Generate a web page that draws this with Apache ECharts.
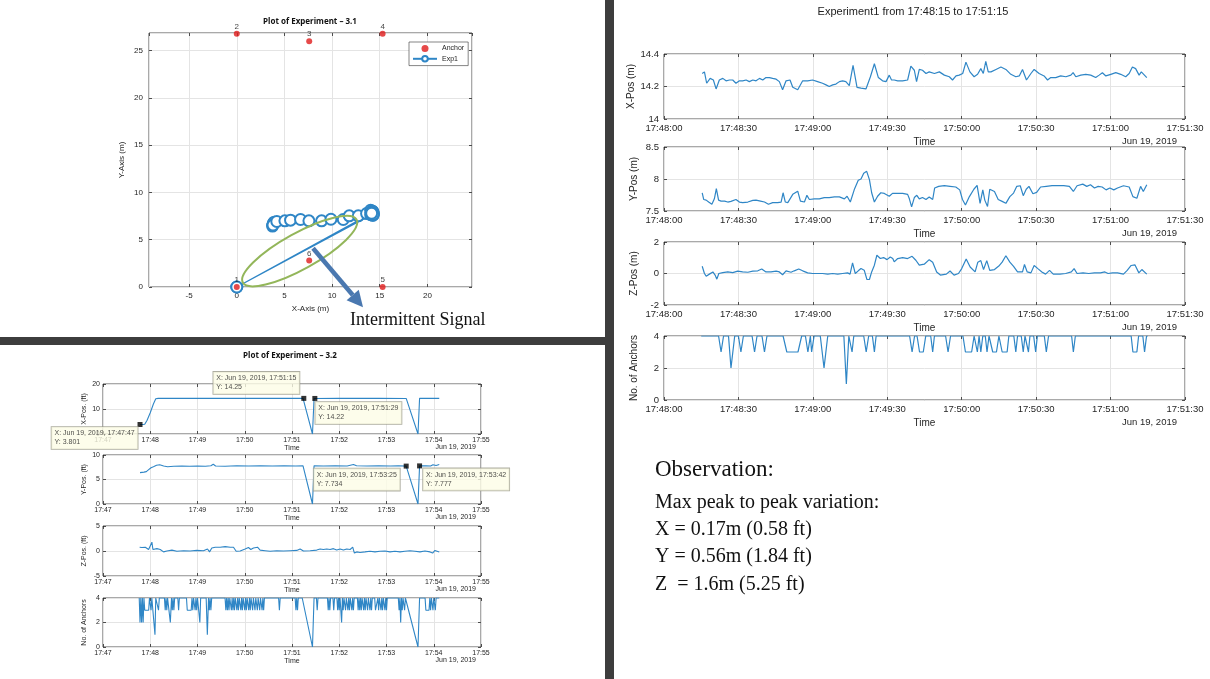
<!DOCTYPE html>
<html><head><meta charset="utf-8">
<script src="https://cdn.jsdelivr.net/npm/echarts@6/dist/echarts.min.js"></script>
<style>html,body{margin:0;padding:0;background:#fff}#c{width:1210px;height:679px}</style>
</head><body><div id="c"></div>
<script>
// ================= DATA =================
// Plot of Experiment - 3.1 (positions in m)
const anchorNames = ['1', '2', '3', '4', '5', '6'];
const anchorX = [0, 0, 7.6, 15.3, 15.3, 7.6];
const anchorY = [0, 26.8, 26.0, 26.8, 0, 2.8];
const exp1X = [3.75, 3.82, 3.92, 3.8, 4.2, 5.05, 5.64, 6.69, 7.57, 8.9, 9.88, 11.17, 11.8, 12.75, 13.62, 14.04, 14.15, 14.25, 14.1, 14.3, 14.2, 14.05, 14.35, 14.15, 0, 14.2, 14.1, 14.3, 14.25, 0, 14.2, 14.3, 14.15];
const exp1Y = [6.44, 6.72, 6.86, 6.55, 6.93, 7.0, 7.07, 7.14, 7.0, 7.0, 7.17, 7.14, 7.53, 7.53, 7.77, 8.12, 7.7, 7.95, 7.85, 7.6, 8.05, 7.65, 7.75, 7.9, 0, 7.8, 7.7, 7.95, 7.6, 0, 7.85, 7.7, 7.8];

// Plot of Experiment - 3.2 (time: seconds after 17:47:00, values in ft)
const leftTimeLabels = ['17:47', '17:48', '17:49', '17:50', '17:51', '17:52', '17:53', '17:54', '17:55'];
const leftXPos = [[47,3.801],[50,3.8],[53,3.9],[56,5.5],[60,8.5],[64,12],[67,14.1],[70,14.25],[100,14.27],[150,14.24],[200,14.26],[254,14.25],[266,0],[268,14.22],[300,14.24],[350,14.25],[385,14.23],[400,0],[402,14.25],[415,14.25],[427,14.24]];
const leftYPos = [[47,6.4],[49,6.2],[52,6.5],[55,6.6],[58,7.0],[61,7.4],[64,7.6],[68,7.9],[72,8.0],[77,7.75],[82,7.6],[90,7.7],[100,7.75],[110,7.7],[120,7.75],[130,7.7],[137,7.8],[140,8.1],[143,7.75],[155,7.7],[170,7.8],[185,7.75],[200,7.8],[215,7.75],[230,7.8],[245,7.75],[254,7.8],[266,0],[268,7.8],[280,7.75],[295,7.8],[310,7.75],[318,8.05],[322,7.8],[335,7.75],[350,7.8],[365,7.75],[375,7.8],[385,7.734],[400,0],[402,7.777],[410,7.8],[416,7.75],[419,8.0],[423,7.85],[427,8.05]];
const leftZPos = [[46.5,0.76],[49.4,0.7],[53.7,0.76],[57.9,0.3],[60,0],[62.1,1.76],[63.4,0.3],[65.1,0.6],[68.5,0.47],[72.7,0.3],[76.9,-0.18],[81.1,0],[87.5,0.18],[93.8,-0.06],[102.3,0.06],[110.7,0],[119.2,0.12],[127.6,0.06],[132.7,0.41],[135.3,-0.18],[138.2,0.59],[142.5,0.76],[148.8,0.76],[155.2,0.88],[161.5,0.76],[165.7,0.76],[169.1,-0.06],[174.2,0],[180.5,0.41],[184.7,0.7],[187.7,0.3],[191.1,0.59],[196.2,0.76],[199.5,0.18],[205.9,0.06],[212.2,-0.06],[220.7,0.06],[229.1,0],[237.6,0.06],[246,0.12],[250.3,0.41],[254.5,0],[263,0.06],[271.4,0.18],[275.7,0.41],[279.9,0.3],[284.1,0.41],[288.4,0.3],[292.6,0.47],[296.8,0.18],[301.1,0.41],[305.3,0.18],[309.5,0.41],[313.8,0.3],[317.1,0.76],[319.2,-0.41],[322.2,-0.18],[326.4,-0.29],[332.7,-0.18],[339,-0.06],[345.4,-0.18],[351.7,-0.06],[358,0],[364.4,-0.18],[370.7,-0.06],[377.1,-0.18],[383.4,-0.06],[389.8,0.06],[396.1,-0.06],[402.5,-0.18],[408.8,0],[415.2,-0.18],[418.6,-0.41],[421.5,0.12],[427,-0.18]];
const leftAnchors = [[46,4],[47,2],[48,4],[49,2],[50,4],[51,2],[52,4],[53,3],[58,3],[59,4],[60,4],[61,3],[62,4],[64,4],[66,1],[67,4],[69,4],[70.5,3],[71.5,4],[78,4],[79,3],[80,4],[81,3],[82,4],[84,4],[85.5,2],[87,4],[88,3],[89,4],[90,3],[91,4],[95,4],[96,3],[97,4],[106,4],[107,3],[112,3],[113,4],[114,3],[115,4],[117,3],[118,4],[119,3],[120,4],[122,4],[123,2],[124,4],[131,4],[132.5,1],[134,4],[135,3],[136,4],[137,3],[138,4],[155,4],[156,3],[157,4],[158,3],[159,4],[160,3],[161,4],[163,3],[164,4],[165,3],[166,4],[167,3],[168,4],[170,3],[171,4],[172,3],[173,4],[175,3],[176,4],[177,3],[178,4],[180,3],[181,4],[182,3],[183,4],[185,3],[186,4],[187,3],[188,4],[190,3],[191,4],[193,3],[194,4],[196,3],[197,4],[199,3],[200,4],[202,3],[203,4],[204,3],[205,4],[223,4],[224,3],[225,4],[244,4],[245,3],[246,4],[247,3],[248,4],[253,4],[266,0],[268,4],[271,4],[272,3],[273,4],[285,4],[286,3],[287,4],[288,3],[289,4],[292,4],[293,3],[294,4],[297,4],[298,3],[299,4],[300,3],[301,4],[302,4],[303,2],[304,4],[305,3],[306,4],[308,3],[309,4],[311,3],[312,4],[313,3],[314,4],[316,3],[317,4],[318,3],[319,4],[323,4],[324,3],[325,4],[326,3],[327,4],[328,3],[329,4],[331,3],[332,4],[333,3],[334,4],[336,3],[337,4],[339,3],[340,4],[341,3],[342,4],[345,4],[346,3],[348,3],[349,4],[350,3],[351,4],[353,3],[354,4],[355,3],[356,4],[358,3],[359,4],[360,3],[361,4],[375,4],[376,3],[377,4],[378,2],[379,4],[380,3],[381,4],[383,3],[384,4],[400,0],[402,4],[409,4],[410,3],[414,3],[415,4],[416,3],[417,4],[419,3],[420,4],[421,4],[422,3],[423,4],[427,4]];
// data tips
const tipT = [47, 255, 269, 385, 402];
const tipV = [3.801, 14.25, 14.22, 7.734, 7.777];
const tipPanel = [0, 0, 0, 1, 1];
const tipClock = ['17:47:47', '17:51:15', '17:51:29', '17:53:25', '17:53:42'];

// Experiment1 from 17:48:15 to 17:51:15 (time: seconds after 17:48:00, values in m)
const rightTimeLabels = ['17:48:00', '17:48:30', '17:49:00', '17:49:30', '17:50:00', '17:50:30', '17:51:00', '17:51:30'];
const rightXPos = [[15.4,14.28],[16.3,14.29],[17.2,14.22],[18.6,14.25],[19.9,14.24],[21,14.185],[22.3,14.24],[23.7,14.25],[25,14.235],[26.4,14.24],[27.7,14.24],[29,14.22],[30.4,14.235],[31.7,14.235],[33.1,14.24],[34.4,14.23],[35.8,14.24],[37.1,14.235],[38.5,14.25],[39.8,14.24],[41.1,14.255],[42.5,14.255],[43.8,14.25],[45.2,14.245],[46.5,14.23],[47.8,14.18],[49.2,14.235],[50.8,14.24],[51.9,14.195],[53.9,14.18],[55.9,14.235],[57.9,14.235],[59.9,14.24],[61.9,14.23],[63.9,14.22],[65.3,14.21],[66.6,14.2],[68,14.21],[69.3,14.215],[70.7,14.23],[72,14.235],[73.3,14.23],[74.7,14.205],[76.2,14.33],[77.8,14.195],[79.4,14.19],[81.4,14.185],[83.2,14.26],[84.8,14.34],[86.4,14.255],[88.1,14.235],[89.5,14.23],[90.8,14.27],[91.7,14.24],[92.8,14.24],[94.2,14.235],[96.2,14.235],[98.2,14.24],[99.5,14.325],[100.9,14.3],[101.8,14.23],[102.9,14.305],[104.2,14.3],[105.6,14.28],[106.9,14.29],[109,14.28],[111,14.29],[113,14.27],[115,14.26],[116.3,14.24],[117.7,14.265],[119,14.27],[120.4,14.28],[121.7,14.35],[123.3,14.29],[125,14.26],[126.4,14.275],[127.7,14.31],[128.7,14.28],[129.7,14.355],[130.7,14.29],[131.8,14.29],[133.8,14.305],[135.8,14.32],[137.8,14.305],[139.8,14.275],[141.8,14.26],[143.2,14.265],[144.5,14.305],[146.1,14.24],[147.9,14.28],[149.2,14.305],[151.2,14.28],[153.2,14.265],[154.6,14.24],[155.9,14.255],[157.9,14.255],[159.9,14.265],[162,14.26],[164,14.27],[164.9,14.285],[166,14.26],[168,14.27],[170,14.275],[172,14.27],[174,14.255],[175.4,14.27],[176.7,14.285],[178.1,14.265],[180.1,14.275],[182.1,14.285],[184.1,14.275],[186.1,14.26],[187.5,14.28],[188.8,14.32],[190.1,14.31],[191.5,14.27],[192.4,14.29],[194.6,14.255]];
const rightYPos = [[15.4,7.785],[16,7.68],[17,7.67],[18,7.64],[19.3,7.605],[20.3,7.69],[21.1,7.85],[22,7.67],[23,7.655],[24.4,7.655],[25.7,7.64],[27,7.65],[29,7.68],[30.4,7.64],[31.7,7.63],[33.8,7.64],[35.8,7.665],[37.1,7.67],[38.9,7.655],[40.5,7.64],[42.1,7.605],[43.8,7.63],[45.8,7.63],[47.2,7.64],[48,7.785],[48.9,7.64],[49.9,7.63],[51.9,7.76],[53.9,7.81],[55,7.655],[56.6,7.64],[57.6,7.745],[58.6,7.68],[60.6,7.69],[62.6,7.69],[64.6,7.71],[66.6,7.71],[68.7,7.72],[70.7,7.72],[72.7,7.69],[73.8,7.73],[75.1,7.64],[76.7,7.835],[78.3,7.98],[79.4,8.0],[80.5,8.09],[81.7,8.12],[82.8,7.99],[83.7,7.785],[84.8,7.64],[86.1,7.73],[87.4,7.785],[88.8,7.775],[90.8,7.73],[92.1,7.775],[94.2,7.775],[96.2,7.775],[98.2,7.76],[98.9,7.69],[99.8,7.565],[100.9,7.71],[101.9,7.745],[102.9,7.69],[104.2,7.71],[105.6,7.68],[106.9,7.72],[108.3,7.68],[109.1,7.86],[110.7,7.885],[113,7.895],[115.3,7.885],[117.6,7.875],[119.2,7.83],[120.3,7.68],[121.5,7.595],[123.1,7.725],[124.9,7.84],[126.2,7.9],[127.4,7.62],[128.5,7.83],[129.3,7.67],[130.4,7.57],[131.3,7.84],[133.2,7.805],[134.7,7.68],[136.3,7.65],[137.8,7.62],[139.4,7.725],[140.9,7.78],[142.2,7.885],[143.6,7.895],[144.8,7.74],[146,7.84],[147.1,7.885],[148.7,7.77],[150.2,7.79],[151.8,7.875],[154.1,7.885],[156.4,7.895],[158.8,7.895],[161.1,7.895],[163.4,7.885],[165,7.805],[166.5,7.895],[168.8,7.92],[170.4,7.885],[171.9,7.91],[173.5,7.86],[175,7.885],[176.6,7.875],[178.2,7.83],[179.7,7.86],[181.3,7.83],[182.8,7.86],[185.2,7.895],[187.5,7.875],[189,7.725],[190.6,7.7],[192.1,7.885],[193.2,7.805],[194.6,7.91]];
const rightZPos = [[15.4,0.46],[16.3,0],[17,-0.17],[18.3,-0.04],[19.7,0.1],[20.6,-0.1],[21.3,-0.36],[22.1,0],[23.7,0.06],[25.7,0.1],[27.7,0.06],[29.7,0.15],[31.7,0.1],[33.8,0.08],[35.8,0.15],[37.8,0.17],[39.4,0.29],[41.1,0.1],[43.1,0.1],[45.2,0.15],[46.5,0.1],[47.8,-0.08],[49.2,0.17],[51.2,0.08],[52.5,0.17],[54.3,0.29],[55.9,0.17],[57.9,0.04],[59.9,0],[61.9,0],[63.9,0],[66,-0.04],[68,0],[70,-0.04],[72,0],[74,0.04],[75,-0.04],[76,0.67],[77.1,0],[78.3,0.17],[79.4,0.32],[80.7,0.21],[81.8,-0.38],[82.8,-0.38],[83.7,0.1],[84.8,0.53],[85.8,1.16],[87.2,0.95],[88.5,1.01],[89.9,0.88],[91.2,1.05],[92.2,0.95],[92.8,0.74],[94.2,0.95],[96.2,1.01],[98.2,0.95],[100,1.09],[101.5,0.84],[102.9,0.53],[104.9,0.59],[106.9,0.88],[108.3,0.72],[109.9,0.1],[111.4,-0.1],[113.8,-0.04],[115.3,0.16],[116.9,-0.1],[118.7,0],[120,0.31],[121.8,0.92],[123.4,0.41],[125.4,0.1],[126.5,0.72],[127.7,0.82],[128.8,0.25],[130.1,0.82],[131.3,0.2],[133.2,0.25],[135.2,0.51],[136.3,0.72],[137.8,1.13],[139.4,0.72],[140.9,0.45],[142.5,0.1],[144.5,0.1],[145.3,0.57],[146.4,0.1],[147.9,0.04],[149.2,0.51],[150.7,0.31],[152.3,0.1],[153.8,-0.04],[155.4,0.2],[156.9,-0.04],[159.6,-0.04],[161.9,0],[164.2,0.1],[165.3,0.31],[166.5,0],[168.9,0.04],[171.2,0],[173.5,0.04],[175.9,0.04],[177.7,0.1],[179,0],[180.8,0.04],[182.8,0.04],[185.2,-0.04],[186.7,0.2],[188.3,0.51],[189.8,0.55],[191.4,0.04],[192.6,0.25],[194.6,-0.04]];
const rightAnchors = [[15,4],[22,4],[23,3],[24,4],[26,4],[27,2],[28.5,4],[30,4],[31,3],[32,4],[35.5,4],[36.5,3],[37.5,4],[39.5,4],[40.5,3],[41.5,4],[48,4],[49.5,3],[54,3],[55.5,4],[57,4],[58,3],[59,4],[59.5,3],[60.5,4],[63,4],[64.5,2],[66,4],[72.5,4],[73.5,1],[74.5,4],[75.2,4],[75.8,3],[76.5,4],[80.5,4],[81.5,3],[82.5,4],[84,4],[84.8,3],[85.5,4],[99,4],[100,3],[101,4],[102,4],[103,3],[104.5,3],[105.5,4],[107.5,4],[108.3,3],[109,4],[113.5,4],[114.5,3],[115.5,4],[120.5,4],[121.5,3],[124,3],[125,4],[125.8,4],[126.3,3],[127,4],[127.7,3],[128.5,4],[129.5,4],[130.2,3],[131,4],[131.8,4],[132.5,3],[134,3],[135,4],[135.6,4],[136.3,3],[138.3,3],[139,4],[141,4],[141.8,3],[142.5,4],[144,4],[144.8,3],[145.5,4],[146.2,4],[146.9,3],[147.5,4],[149,4],[149.8,3],[150.5,4],[153.3,4],[154.1,3],[155,4],[164.3,4],[165,3],[165.8,4],[188.3,4],[189,3],[190.6,3],[191.3,4],[193,4],[193.7,3],[194.5,4],[195,4]];

const observationLines = ['Observation:', 'Max peak to peak variation:', 'X = 0.17m (0.58 ft)', 'Y = 0.56m (1.84 ft)', 'Z  = 1.6m (5.25 ft)'];

// ================= CHART =================
const SANS = '"Liberation Sans", Arial, sans-serif';
const SERIF = '"Liberation Serif", "Times New Roman", serif';
const AX = '#262626', GL = '#e4e4e4', BLUE = '#2f86c6';

const chart = echarts.init(document.getElementById('c'));
const grids = [], xAxes = [], yAxes = [], series = [], graphics = [];

function addPanel(rect, xc, yc) {
  const gi = grids.length;
  grids.push({left: rect[0], top: rect[1], width: rect[2], height: rect[3], show: true,
    borderColor: AX, borderWidth: 0.8, backgroundColor: '#fff', containLabel: false});
  const mk = (c, dim) => {
    const base = {type: 'value', gridIndex: gi, min: c.min, max: c.max, axisLine: {show: false, onZero: false},
      axisTick: {inside: true, length: c.tickLen || 3, lineStyle: {color: AX, width: 0.8}}};
    if (c.interval) base.interval = c.interval; else base.splitNumber = c.splitNumber || 5;
    const main = Object.assign({}, base, {
      position: dim === 'x' ? 'bottom' : 'left',
      splitLine: {show: true, lineStyle: {color: GL, width: 1}},
      axisLabel: {fontSize: c.fontSize, color: AX, fontFamily: SANS, margin: c.margin || 4,
        formatter: c.formatter, showMinLabel: c.showMin !== false, showMaxLabel: c.showMax !== false},
      name: c.name, nameLocation: 'middle', nameGap: c.nameGap,
      nameTextStyle: {fontSize: c.nameSize || c.fontSize, color: AX, fontFamily: SANS}
    });
    const other = Object.assign({}, base, {position: dim === 'x' ? 'top' : 'right',
      splitLine: {show: false}, axisLabel: {show: false}});
    return [main, other];
  };
  xAxes.push(...mk(xc, 'x'));
  yAxes.push(...mk(yc, 'y'));
  return gi;
}
function lineSeries(gi, data, extra) {
  series.push(Object.assign({type: 'line', xAxisIndex: 2 * gi, yAxisIndex: 2 * gi, data: data,
    showSymbol: false, symbol: 'none', lineStyle: {color: BLUE, width: 1.2}, itemStyle: {color: BLUE},
    animation: false, z: 3}, extra || {}));
}

// ---- Panel: Plot of Experiment - 3.1 ----
const g0 = addPanel([149, 33, 323, 254],
  {min: -9.21, max: 24.68, splitNumber: 5, fontSize: 8, margin: 5, showMin: false, showMax: false,
   name: 'X-Axis (m)', nameGap: 18, nameSize: 8},
  {min: 0, max: 26.87, splitNumber: 5, fontSize: 8, margin: 6, showMax: false,
   name: 'Y-Axis (m)', nameGap: 23, nameSize: 8});
series.push({name: 'Anchor', type: 'scatter', xAxisIndex: 0, yAxisIndex: 0,
  data: anchorX.map((x, i) => [x, anchorY[i]]), symbolSize: 6, itemStyle: {color: '#e01b1b'},
  label: {show: true, position: 'top', distance: 0, fontSize: 8, color: '#111', fontFamily: SANS,
    formatter: p => anchorNames[p.dataIndex]}, z: 5, animation: false});
series.push({name: 'Exp1', type: 'line', xAxisIndex: 0, yAxisIndex: 0,
  data: exp1X.map((x, i) => [x, exp1Y[i]]), symbol: 'emptyCircle', symbolSize: 11, showSymbol: true,
  lineStyle: {color: BLUE, width: 1.1}, itemStyle: {color: BLUE, borderWidth: 0.9}, z: 4, animation: false});

// ---- Panels: Plot of Experiment - 3.2 ----
const lx = {min: 0, max: 480, interval: 60, fontSize: 7, margin: 3,
  formatter: v => leftTimeLabels[Math.round(v / 60)], name: 'Time', nameGap: 11, nameSize: 7};
const leftRects = [[103, 384, 378, 50], [103, 455, 378, 49], [103, 526, 378, 50], [103, 598, 378, 49]];
const leftY = [
  {min: 0, max: 20, interval: 10, name: 'X-Pos. (ft)'},
  {min: 0, max: 10, interval: 5, name: 'Y-Pos. (ft)'},
  {min: -5, max: 5, interval: 5, name: 'Z-Pos. (ft)'},
  {min: 0, max: 4, interval: 2, name: 'No. of Anchors'}];
const leftData = [leftXPos, leftYPos, leftZPos, leftAnchors];
const leftG = leftRects.map((r, i) => {
  const g = addPanel(r, lx, Object.assign({fontSize: 7, margin: 3, nameGap: 15, nameSize: 7}, leftY[i]));
  lineSeries(g, leftData[i], {lineStyle: {color: BLUE, width: 1.1}});
  graphics.push({type: 'text', x: r[0] + r[2] - 5, y: r[1] + r[3] + 13, z: 10,
    style: {text: 'Jun 19, 2019', font: '7px ' + SANS, fill: AX, align: 'right', verticalAlign: 'middle'}});
  return g;
});
// data tips
const tipPos = [[-86, 5], [-88, -24], [3, 6], [-90, 5], [6, 5]];
[0, 1].forEach(panel => {
  const g = leftG[panel];
  const items = [];
  tipT.forEach((t, i) => {
    if (tipPanel[i] !== panel) return;
    items.push({value: [t, tipV[i]], label: {position: tipPos[i],
      formatter: 'X: Jun 19, 2019, ' + tipClock[i] + '\nY: ' + tipV[i]}});
  });
  series.push({type: 'scatter', xAxisIndex: 2 * g, yAxisIndex: 2 * g, data: items, symbol: 'rect',
    symbolSize: 5, itemStyle: {color: '#000'}, z: 20, animation: false, clip: false,
    label: {show: true, fontSize: 7, lineHeight: 9, color: '#222', fontFamily: SANS, align: 'left',
      verticalAlign: 'top', backgroundColor: '#fdfde6', borderColor: '#9a9a8a', borderWidth: 0.8,
      padding: [2, 3, 2, 3]}});
});

// ---- Panels: Experiment1 from 17:48:15 to 17:51:15 ----
const rx = {min: 0, max: 210, interval: 30, fontSize: 9.5, margin: 4,
  formatter: v => rightTimeLabels[Math.round(v / 30)], name: 'Time', nameGap: 18, nameSize: 10};
const rightRects = [[664, 54, 521, 65], [664, 147, 521, 64], [664, 242, 521, 63], [664, 336, 521, 64]];
const rightY = [
  {min: 14, max: 14.4, interval: 0.2, name: 'X-Pos (m)', formatter: v => (Math.abs(v - 14) < 1e-6 ? '14' : v.toFixed(1))},
  {min: 7.5, max: 8.5, interval: 0.5, name: 'Y-Pos (m)'},
  {min: -2, max: 2, interval: 2, name: 'Z-Pos (m)'},
  {min: 0, max: 4, interval: 2, name: 'No. of Anchors'}];
const rightData = [rightXPos, rightYPos, rightZPos, rightAnchors];
rightRects.forEach((r, i) => {
  const g = addPanel(r, rx, Object.assign({fontSize: 9.5, margin: 5, nameGap: 25, nameSize: 10}, rightY[i]));
  lineSeries(g, rightData[i]);
  graphics.push({type: 'text', x: r[0] + r[2] - 8, y: r[1] + r[3] + 22, z: 10,
    style: {text: 'Jun 19, 2019', font: '9.5px ' + SANS, fill: AX, align: 'right', verticalAlign: 'middle'}});
});

// ---- titles, dividers, notes ----
graphics.push(
  {type: 'text', x: 310, y: 22, style: {text: 'Plot of Experiment \u2013 3.1', font: 'bold 8px "Noto Sans", sans-serif', fill: '#111', align: 'center', verticalAlign: 'middle'}},
  {type: 'text', x: 290, y: 356, style: {text: 'Plot of Experiment \u2013 3.2', font: 'bold 8px "Noto Sans", sans-serif', fill: '#111', align: 'center', verticalAlign: 'middle'}},
  {type: 'text', x: 913, y: 12, style: {text: 'Experiment1 from 17:48:15 to 17:51:15', font: '11px ' + SANS, fill: '#222', align: 'center', verticalAlign: 'middle'}},
  {type: 'rect', shape: {x: 605, y: 0, width: 9, height: 679}, style: {fill: '#3d3d3d'}, z: 30},
  {type: 'rect', shape: {x: 0, y: 337, width: 605, height: 8}, style: {fill: '#3d3d3d'}, z: 30},
  {type: 'text', x: 350, y: 320, z: 30, style: {text: 'Intermittent Signal', font: '18px ' + SERIF, fill: '#111', align: 'left', verticalAlign: 'middle'}}
);
const obsY = [470, 503, 530, 557, 585];
const obsSize = [23, 20, 20, 20, 20];
observationLines.forEach((s, i) => graphics.push({type: 'text', x: 655, y: obsY[i],
  style: {text: s, font: obsSize[i] + 'px ' + SERIF, fill: '#111', align: 'left', verticalAlign: 'middle'}}));

chart.setOption({
  animation: false,
  backgroundColor: '#fff',
  grid: grids, xAxis: xAxes, yAxis: yAxes, series: series,
  legend: {left: 409, top: 42, orient: 'vertical', data: ['Anchor', 'Exp1'], itemWidth: 24, itemHeight: 7,
    itemGap: 3, padding: [3, 4, 3, 3], borderColor: '#333', borderWidth: 0.6, backgroundColor: '#fff',
    textStyle: {fontSize: 7, color: AX, fontFamily: SANS}},
  graphic: graphics
});

// annotation ellipse and arrow anchored to data coordinates of the 3.1 plot
const c = chart.convertToPixel({gridIndex: 0}, [6.6, 3.8]);
const s = chart.convertToPixel({gridIndex: 0}, [8.0, 4.1]);
const e = [s[0] + 50, s[1] + 59];
const ang = Math.atan2(e[1] - s[1], e[0] - s[0]);
const hl = 16, hw = 8;
const bx = e[0] - hl * Math.cos(ang), by = e[1] - hl * Math.sin(ang);
const nx = -Math.sin(ang), ny = Math.cos(ang);
graphics.push(
  {type: 'ellipse', x: c[0], y: c[1], rotation: 29 * Math.PI / 180, shape: {cx: 0, cy: 0, rx: 65, ry: 18},
    style: {fill: 'none', stroke: '#93b65a', lineWidth: 2}, z: 25},
  {type: 'line', shape: {x1: s[0], y1: s[1], x2: bx, y2: by}, style: {stroke: '#4a78b0', lineWidth: 4.5}, z: 26},
  {type: 'polygon', shape: {points: [[e[0], e[1]], [bx + nx * hw, by + ny * hw], [bx - nx * hw, by - ny * hw]]},
    style: {fill: '#4a78b0'}, z: 26}
);
chart.setOption({graphic: graphics}, {replaceMerge: ['graphic']});
</script></body></html>
